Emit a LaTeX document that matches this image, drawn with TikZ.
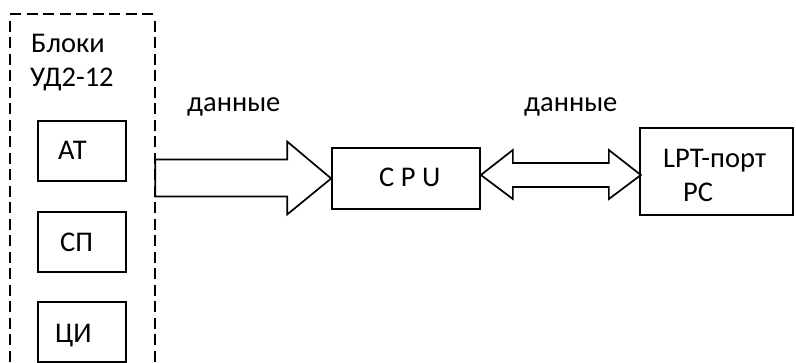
\documentclass[tikz,border=0pt]{standalone}
\usepackage{fontspec}
\setmainfont{Carlito}
\usetikzlibrary{calc}

\tikzset{
  box/.style={draw, line width=1.7pt, minimum width=#1, inner sep=0pt},
  lbl/.style={anchor=base west, inner sep=0pt, font=\fontsize{28.5}{34}\selectfont},
  bus/.style={draw, line width=1.7pt, line join=miter, fill=white},
  frame/.style={line width=1.8pt, dash pattern=on 11pt off 5.5pt}
}

\begin{document}
\begin{tikzpicture}[x=1pt, y=-1pt]
  \useasboundingbox (0,0) rectangle (796,363);

  % group of UD2-12 units, open at the bottom
  \draw[frame] (10,14) -- (155,14);
  \draw[frame] (10,21) -- (10,370);
  \draw[frame] (155,21) -- (155,370);
  \node[lbl] (title1) at (31,53) {Блоки};
  \node[lbl] (title2) at (30,87) {УД2-12};

  % unit boxes
  \node[box=88pt, minimum height=60pt] (at) at (82,151) {};
  \node[box=88pt, minimum height=60pt] (sp) at (82,242) {};
  \node[box=88pt, minimum height=60pt] (ci) at (82,332) {};
  \node[lbl] (atl) at (58,160) {АТ};
  \node[lbl] (spl) at (60,252) {СП};
  \node[lbl] (cil) at (55,343) {ЦИ};

  % processor and PC port
  \node[box=148pt, minimum height=61pt] (cpu) at (406,178.5) {};
  \node[lbl] (cpul) at (379,187) {C P U};
  \node[box=153pt, minimum height=87pt] (lpt) at (716.5,171.5) {};
  \node[lbl] (lptl) at (663,168) {LPT-порт};
  \node[lbl] (pcl) at (683,202) {PC};

  % one-way data bus into the CPU
  \path[bus] (cpu.west) -- ++(-44,-37) -- ++(0,18) -- ++(-132,0)
    -- ++(0,37) -- ++(132,0) -- ++(0,18) -- cycle;
  \node[lbl] (d1) at (187,112) {данные};

  % two-way data bus between CPU and port
  \coordinate (bl) at ($(cpu.east)+(0,-3.5)$);
  \path[bus] (bl) -- ++(32,-25) -- ++(0,13) -- ++(96,0) -- ++(0,-13)
    -- ++(32,25) -- ++(-32,24) -- ++(0,-12) -- ++(-96,0) -- ++(0,12) -- cycle;
  \node[lbl] (d2) at (524,112) {данные};
\end{tikzpicture}
\end{document}
